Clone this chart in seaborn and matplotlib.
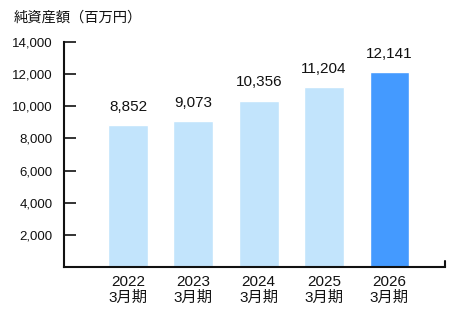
import matplotlib.pyplot as plt
import seaborn as sns
import pandas as pd

years = ['2022\n3月期', '2023\n3月期', '2024\n3月期', '2025\n3月期', '2026\n3月期']
net_assets = [8852, 9073, 10356, 11204, 12141]
bar_colours = ['#c2e4fc', '#c2e4fc', '#c2e4fc', '#c2e4fc', '#449aff']
y_ticks = [2000, 4000, 6000, 8000, 10000, 12000, 14000]

sns.set_theme(style='white')
plt.rcParams['font.family'] = ['Liberation Sans', 'Noto Sans CJK JP', 'DejaVu Sans']

df = pd.DataFrame({'year': years, 'value': net_assets})

fig = plt.figure(figsize=(4.56, 3.2), dpi=100)
ax = fig.add_axes([64 / 456, 1 - 267 / 320, (445 - 64) / 456, (267 - 42) / 320])

sns.barplot(data=df, x='year', y='value', hue='year', palette=bar_colours,
            width=0.61, legend=False, saturation=1, ax=ax)

for c in ax.containers:
    ax.bar_label(c, labels=[f'{int(v):,}' for v in c.datavalues], padding=8,
                 fontsize=11, color='#111111')

ax.set_ylim(0, 14000)
ax.set_xlim(-0.98, 4.85)
ax.set_yticks(y_ticks)
ax.set_yticklabels([f'{t:,}' for t in y_ticks])
ax.set_xlabel('')
ax.set_ylabel('')

for side in ['top', 'right']:
    ax.spines[side].set_visible(False)
for side in ['left', 'bottom']:
    ax.spines[side].set_linewidth(1.5)
    ax.spines[side].set_color('#111111')

ax.tick_params(axis='y', left=True, direction='in', length=8.6, width=1.2,
               color='#111111', pad=8, labelsize=9.5, labelcolor='#111111')
ax.tick_params(axis='x', bottom=False, length=0, pad=6, labelsize=11,
               labelcolor='#111111')
for lbl in ax.get_xticklabels():
    lbl.set_linespacing(1.1)

# small end tick on the right of the baseline
ax.axvline(4.85, ymin=0, ymax=0.025, color='#111111', lw=1.5, clip_on=False)

fig.text(14 / 456, 1 - 18 / 320, '純資産額（百万円）', fontsize=10.3,
         va='center', ha='left', color='#111111')

fig.savefig('out.png', dpi=100, facecolor='white')
